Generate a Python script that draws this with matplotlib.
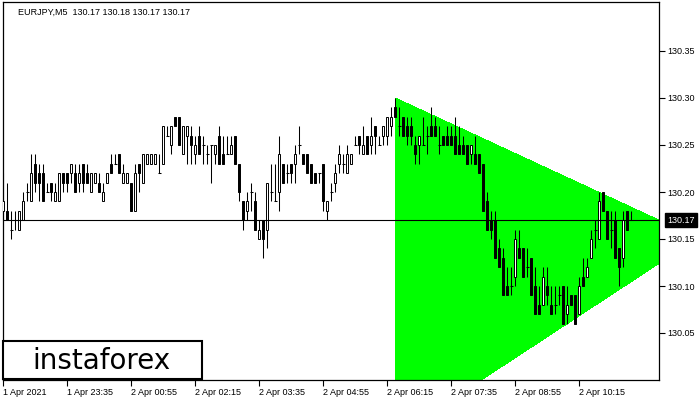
###############################################################################
# EURJPY M5 candles with a bright green triangle pattern, drawn in the style of
# an MT4 terminal screenshot (white background, black/hollow candles).
###############################################################################
import matplotlib.pyplot as plt
from matplotlib.patches import Rectangle
from matplotlib.transforms import blended_transform_factory

plt.rcParams['font.family'] = ['Liberation Sans', 'DejaVu Sans']

###############################################################################
symbol_text = "EURJPY,M5  130.17 130.18 130.17 130.17"
last_price = 130.17

opens = [130.18, 130.18, 130.16, 130.17, 130.16, 130.17, 130.20, 130.19, 130.23, 130.22,
         130.22, 130.20, 130.21, 130.19, 130.19, 130.22, 130.22, 130.22, 130.22, 130.21,
         130.23, 130.22, 130.20, 130.21, 130.21, 130.19, 130.21, 130.23, 130.23, 130.24,
         130.21, 130.21, 130.21, 130.18, 130.23, 130.21, 130.23, 130.23, 130.23, 130.22,
         130.23, 130.26, 130.25, 130.28, 130.28, 130.24, 130.26, 130.26, 130.24, 130.26,
         130.25, 130.24, 130.25, 130.24, 130.26, 130.24, 130.24, 130.24, 130.26, 130.23,
         130.19, 130.18, 130.20, 130.19, 130.15, 130.17, 130.16, 130.20, 130.19, 130.20,
         130.23, 130.22, 130.23, 130.23, 130.25, 130.24, 130.24, 130.23, 130.22, 130.22,
         130.23, 130.18, 130.20, 130.21, 130.23, 130.23, 130.22, 130.23, 130.25, 130.26,
         130.24, 130.26, 130.25, 130.27, 130.25, 130.26, 130.26, 130.27, 130.29, 130.27,
         130.28, 130.27, 130.27, 130.25, 130.25, 130.25, 130.26, 130.27, 130.27, 130.25,
         130.26, 130.26, 130.26, 130.26, 130.25, 130.25, 130.25, 130.24, 130.24, 130.24,
         130.23, 130.19, 130.17, 130.17, 130.14, 130.13, 130.10, 130.10, 130.11, 130.14,
         130.14, 130.12, 130.13, 130.10, 130.08, 130.08, 130.10, 130.08, 130.08, 130.09,
         130.10, 130.07, 130.09, 130.09, 130.07, 130.11, 130.11, 130.13, 130.16, 130.15,
         130.20, 130.18, 130.16, 130.17, 130.14, 130.13, 130.18, 130.17]
highs = [130.22, 130.21, 130.18, 130.18, 130.18, 130.20, 130.21, 130.24, 130.24, 130.23,
         130.23, 130.21, 130.21, 130.21, 130.22, 130.22, 130.22, 130.23, 130.23, 130.23,
         130.23, 130.23, 130.22, 130.22, 130.22, 130.21, 130.22, 130.24, 130.24, 130.24,
         130.23, 130.22, 130.21, 130.23, 130.23, 130.24, 130.24, 130.24, 130.24, 130.24,
         130.27, 130.27, 130.27, 130.28, 130.28, 130.27, 130.27, 130.27, 130.26, 130.27,
         130.26, 130.25, 130.25, 130.25, 130.27, 130.26, 130.26, 130.26, 130.26, 130.23,
         130.19, 130.20, 130.21, 130.20, 130.17, 130.17, 130.21, 130.23, 130.23, 130.26,
         130.23, 130.23, 130.23, 130.25, 130.27, 130.24, 130.24, 130.23, 130.22, 130.22,
         130.23, 130.19, 130.21, 130.23, 130.25, 130.24, 130.25, 130.24, 130.26, 130.26,
         130.27, 130.26, 130.28, 130.27, 130.26, 130.27, 130.28, 130.29, 130.30, 130.29,
         130.28, 130.28, 130.28, 130.26, 130.26, 130.28, 130.27, 130.29, 130.28, 130.27,
         130.26, 130.27, 130.27, 130.28, 130.27, 130.26, 130.25, 130.25, 130.26, 130.24,
         130.23, 130.20, 130.18, 130.18, 130.15, 130.14, 130.12, 130.12, 130.16, 130.16,
         130.14, 130.14, 130.13, 130.12, 130.10, 130.12, 130.12, 130.10, 130.10, 130.10,
         130.10, 130.10, 130.09, 130.09, 130.11, 130.13, 130.13, 130.16, 130.17, 130.20,
         130.20, 130.18, 130.18, 130.18, 130.14, 130.18, 130.18, 130.18]
lows = [130.18, 130.17, 130.15, 130.16, 130.16, 130.17, 130.19, 130.19, 130.20, 130.19,
        130.19, 130.20, 130.19, 130.19, 130.19, 130.20, 130.20, 130.21, 130.20, 130.20,
        130.20, 130.21, 130.20, 130.21, 130.20, 130.19, 130.21, 130.22, 130.23, 130.22,
        130.21, 130.21, 130.18, 130.18, 130.20, 130.21, 130.23, 130.23, 130.23, 130.22,
        130.23, 130.26, 130.24, 130.27, 130.25, 130.24, 130.23, 130.23, 130.23, 130.24,
        130.23, 130.23, 130.21, 130.23, 130.23, 130.23, 130.24, 130.24, 130.23, 130.19,
        130.16, 130.17, 130.18, 130.16, 130.15, 130.13, 130.14, 130.19, 130.19, 130.18,
        130.21, 130.21, 130.21, 130.21, 130.24, 130.23, 130.22, 130.21, 130.21, 130.21,
        130.18, 130.17, 130.19, 130.20, 130.22, 130.22, 130.22, 130.23, 130.25, 130.24,
        130.24, 130.24, 130.24, 130.24, 130.25, 130.25, 130.25, 130.26, 130.28, 130.26,
        130.26, 130.25, 130.25, 130.23, 130.23, 130.25, 130.24, 130.26, 130.26, 130.24,
        130.25, 130.25, 130.25, 130.24, 130.24, 130.24, 130.23, 130.23, 130.23, 130.22,
        130.18, 130.16, 130.15, 130.13, 130.12, 130.09, 130.09, 130.09, 130.10, 130.13,
        130.11, 130.11, 130.09, 130.07, 130.07, 130.08, 130.08, 130.07, 130.07, 130.08,
        130.06, 130.06, 130.08, 130.06, 130.07, 130.10, 130.11, 130.13, 130.14, 130.15,
        130.18, 130.15, 130.14, 130.13, 130.10, 130.12, 130.16, 130.17]
closes = [130.19, 130.17, 130.16, 130.17, 130.18, 130.19, 130.20, 130.22, 130.21, 130.21,
          130.19, 130.20, 130.20, 130.20, 130.22, 130.21, 130.21, 130.23, 130.20, 130.22,
          130.21, 130.21, 130.22, 130.22, 130.20, 130.20, 130.22, 130.22, 130.23, 130.22,
          130.22, 130.22, 130.18, 130.22, 130.22, 130.24, 130.24, 130.24, 130.24, 130.22,
          130.27, 130.26, 130.27, 130.27, 130.25, 130.27, 130.27, 130.25, 130.25, 130.24,
          130.25, 130.24, 130.25, 130.25, 130.23, 130.23, 130.24, 130.25, 130.23, 130.20,
          130.17, 130.19, 130.20, 130.16, 130.16, 130.15, 130.21, 130.20, 130.19, 130.24,
          130.21, 130.22, 130.22, 130.24, 130.25, 130.23, 130.22, 130.21, 130.21, 130.22,
          130.19, 130.19, 130.20, 130.22, 130.24, 130.23, 130.24, 130.24, 130.25, 130.25,
          130.25, 130.24, 130.26, 130.26, 130.25, 130.27, 130.28, 130.28, 130.28, 130.27,
          130.26, 130.26, 130.26, 130.24, 130.26, 130.25, 130.26, 130.26, 130.26, 130.25,
          130.25, 130.25, 130.25, 130.24, 130.24, 130.24, 130.23, 130.25, 130.23, 130.22,
          130.18, 130.16, 130.16, 130.13, 130.12, 130.09, 130.09, 130.10, 130.15, 130.13,
          130.11, 130.12, 130.09, 130.07, 130.07, 130.11, 130.09, 130.07, 130.08, 130.09,
          130.06, 130.08, 130.08, 130.06, 130.10, 130.10, 130.12, 130.15, 130.16, 130.19,
          130.18, 130.15, 130.16, 130.13, 130.12, 130.17, 130.16, 130.17]

# time labels, one every 16 bars (80 min)
tick_bars = [0, 16, 32, 48, 64, 80, 96, 112, 128, 144]
tick_labels = ["1 Apr 2021", "1 Apr 23:35", "2 Apr 00:55", "2 Apr 02:15", "2 Apr 03:35",
               "2 Apr 04:55", "2 Apr 06:15", "2 Apr 07:35", "2 Apr 08:55", "2 Apr 10:15"]
price_ticks = [130.05, 130.10, 130.15, 130.20, 130.25, 130.30, 130.35]

# triangle pattern (bar index, price)
tri_x = [98, 98, 173.6]
tri_y = [130.30, 129.94, 130.151]
###############################################################################
W, H = 700, 400
fig = plt.figure(figsize=(W / 100, H / 100), dpi=100)
ax = fig.add_axes([2.7 / W, 20 / H, 656.6 / W, 378 / H])

# pattern
ax.fill(tri_x, tri_y, color='#00ff00', lw=0, antialiased=False, zorder=1)

# candles
body_w = 0.56
for i in range(len(opens)):
    o, h, l, c = opens[i], highs[i], lows[i], closes[i]
    ax.vlines(i, l, h, color='black', lw=0.75, zorder=2)
    if c == o:
        ax.hlines(o, i - body_w / 2 - 0.1, i + body_w / 2 + 0.1, color='black', lw=0.75, zorder=3)
    else:
        fc = 'white' if c > o else 'black'
        ax.add_patch(Rectangle((i - body_w / 2, min(o, c)), body_w, abs(c - o),
                               facecolor=fc, edgecolor='black', lw=0.7, zorder=3))

# current price line + label
ax.axhline(last_price, color='black', lw=0.8, zorder=4)
trans = blended_transform_factory(ax.transAxes, ax.transData)
ax.text(1.012, last_price, f"{last_price:.2f}", transform=trans, color='white',
        fontsize=6.5, ha='left', va='center', clip_on=False,
        bbox=dict(facecolor='black', edgecolor='black', pad=1.6))

ax.set_xlim(-0.15, 164.0)
ax.set_ylim(130.00, 130.00 + 378 / 940)

ax.set_yticks(price_ticks)
ax.set_yticklabels([f"{p:.2f}" for p in price_ticks])
ax.yaxis.tick_right()
ax.tick_params(axis='y', length=4, width=0.8, pad=2, labelsize=6.5, colors='black')

ax.set_xticks(tick_bars)
ax.set_xticklabels(tick_labels)
ax.tick_params(axis='x', length=4, width=0.8, pad=1.5, labelsize=6.5)
plt.setp(ax.get_xticklabels(), ha='left')

for s in ax.spines.values():
    s.set_linewidth(0.9)
    s.set_color('black')

# header text
fig.text(18 / W, 1 - 12 / H, symbol_text, fontsize=6.5, va='center', ha='left')

# logo box
fig.add_artist(Rectangle((3.3 / W, 1 - 379 / H), 198.4 / W, 38 / H,
                         transform=fig.transFigure, facecolor='white',
                         edgecolor='black', lw=1.5, zorder=5))
fig.text(101 / W, 1 - 369 / H, "instaforex", family='DejaVu Sans', fontsize=20,
         ha='center', va='baseline', zorder=6)

plt.savefig('out.png', dpi=100)
